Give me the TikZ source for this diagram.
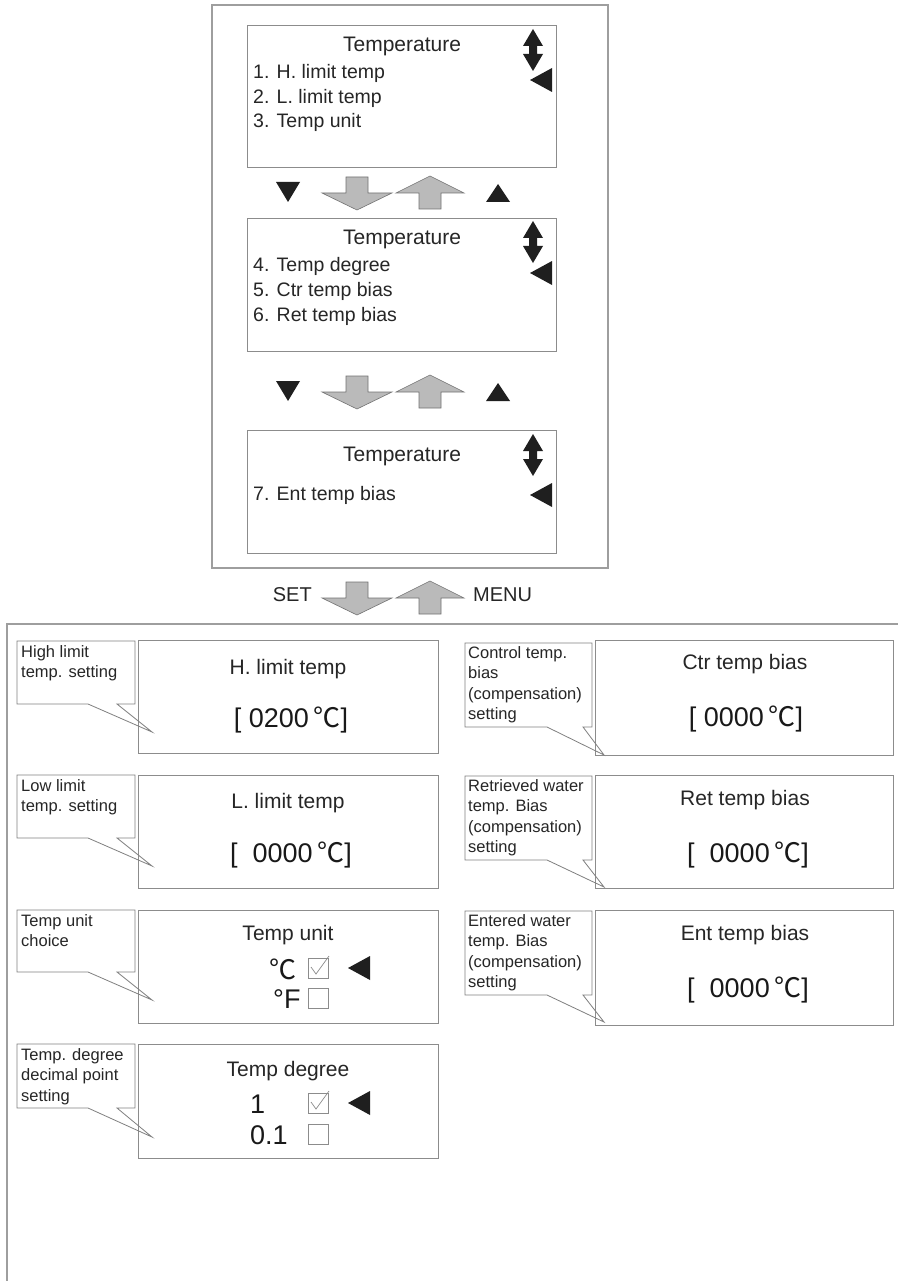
\documentclass[tikz,border=0pt]{standalone}
\usepackage{fontspec}
\setmainfont{Liberation Sans}
\newfontfamily\cjk{Noto Sans CJK SC}
\tikzset{
 screenbox/.style={draw=black!45, line width=0.9pt},
 frameline/.style={draw=black!38, line width=1.6pt},
 calloutline/.style={draw=black!50, line width=0.8pt},
 ttl/.style={font=\fontsize{21}{25}\selectfont, text=black!85, inner sep=0},
 item/.style={font=\fontsize{19.5}{23}\selectfont, anchor=west, text=black!85, inner sep=0},
 valtext/.style={font=\fontsize{27}{32}\selectfont, text=black!90, inner sep=0},
 ctext/.style={font=\fontsize{16.5}{20.5}\selectfont, align=left, anchor=north west, inner sep=0, text=black!85},
 grayarrow/.style={fill=black!27, draw=black!55, line width=0.6pt},
 cbox/.style={draw=black!45, line width=0.7pt},
 sidelabel/.style={font=\fontsize{20}{24}\selectfont, text=black!85, inner sep=0},
}
\newcommand\grayDown[2]{\draw[grayarrow] (#1-11,#2) -- (#1+11,#2) -- (#1+11,#2+16) -- (#1+35,#2+16) -- (#1,#2+33) -- (#1-35,#2+16) -- (#1-11,#2+16) -- cycle;}
\newcommand\grayUp[2]{\draw[grayarrow] (#1,#2) -- (#1+34,#2+17) -- (#1+11,#2+17) -- (#1+11,#2+33) -- (#1-11,#2+33) -- (#1-11,#2+17) -- (#1-34,#2+17) -- cycle;}
\newcommand\dblArrow[2]{\fill[black!88] (#1,#2) -- (#1+10,#2+17) -- (#1+4,#2+17) -- (#1+4,#2+25) -- (#1+10,#2+25) -- (#1,#2+42) -- (#1-10,#2+25) -- (#1-4,#2+25) -- (#1-4,#2+17) -- (#1-10,#2+17) -- cycle;}
\newcommand\leftTri[2]{\fill[black!88] (#1,#2-12) -- (#1,#2+12) -- (#1-22,#2) -- cycle;}
\newcommand\downTri[2]{\fill[black!88] (#1-12,#2-10) -- (#1+12,#2-10) -- (#1,#2+10) -- cycle;}
\newcommand\upTri[2]{\fill[black!88] (#1-12,#2+9) -- (#1+12,#2+9) -- (#1,#2-9) -- cycle;}
\newcommand\checkBox[3]{\draw[cbox] (#1,#2) rectangle (#1+20,#2+20);
 \ifnum#3=1 \draw[black!45, line width=0.7pt] (#1+3,#2+9) -- (#1+8,#2+16) -- (#1+21,#2-2);\fi}
\newcommand\calloutL[3]{\draw[calloutline] (88,#2) -- (17,#2) -- (17,#1) -- (135,#1) -- (135,#2) -- (117,#2) -- (152,#3) -- cycle;}
\newcommand\calloutR[3]{\draw[calloutline] (547,#2) -- (465,#2) -- (465,#1) -- (592,#1) -- (592,#2) -- (583,#2) -- (604,#3) -- cycle;}
\begin{document}
\begin{tikzpicture}[x=1pt,y=-1pt]
\useasboundingbox (0,0) rectangle (898,1281);
\fill[white] (0,0) rectangle (898,1281);
% ---------- top menu panel ----------
\draw[frameline] (212,5) rectangle (608,568);
\node[screenbox, anchor=north west, minimum width=309pt, minimum height=142pt, inner sep=0] (s1) at (247,25) {};
\node[ttl] (s1t) at (402,46) {Temperature};
\node[item] (s1a) at (253,73) {1. H. limit temp};
\node[item] (s1b) at (253,98) {2. L. limit temp};
\node[item] (s1c) at (253,122) {3. Temp unit};
\dblArrow{533}{29}
\leftTri{552}{80}

\node[screenbox, anchor=north west, minimum width=309pt, minimum height=133pt, inner sep=0] (s2) at (247,218) {};
\node[ttl] (s2t) at (402,239) {Temperature};
\node[item] (s2a) at (253,266) {4. Temp degree};
\node[item] (s2b) at (253,291) {5. Ctr temp bias};
\node[item] (s2c) at (253,316) {6. Ret temp bias};
\dblArrow{533}{221}
\leftTri{552}{273}

\node[screenbox, anchor=north west, minimum width=309pt, minimum height=123pt, inner sep=0] (s3) at (247,430) {};
\node[ttl] (s3t) at (402,456) {Temperature};
\node[item] (s3a) at (253,495) {7. Ent temp bias};
\dblArrow{533}{434}
\leftTri{552}{495}

% row arrows
\downTri{288}{192}
\grayDown{357}{177}
\grayUp{430}{176}
\upTri{498}{193}

\downTri{288}{391}
\grayDown{357}{376}
\grayUp{430}{375}
\upTri{498}{392}

% SET / MENU
\node[sidelabel, anchor=east] (set) at (312,595) {SET};
\grayDown{357}{582}
\grayUp{430}{581}
\node[sidelabel, anchor=west] (menu) at (473,595) {MENU};

% ---------- bottom panel ----------
\draw[frameline] (7,1281) -- (7,624) -- (898,624);

% left column
\node[screenbox, anchor=north west, minimum width=300pt, minimum height=113pt, inner sep=0] (a) at (138,640) {};
\node[ttl] (at) at (288,669) {H. limit temp};
\node[valtext] (av) at (291,720) {[ 0200\,{\cjk ℃}]};
\calloutL{641}{704}{732}
\node[ctext] (ac) at (21,645) {High limit\\temp. setting};

\node[screenbox, anchor=north west, minimum width=300pt, minimum height=113pt, inner sep=0] (b) at (138,775) {};
\node[ttl] (bt) at (288,803) {L. limit temp};
\node[valtext] (bv) at (291,855) {[\ \ 0000\,{\cjk ℃}]};
\calloutL{775}{838}{866}
\node[ctext] (bc) at (21,779) {Low limit\\temp. setting};

\node[screenbox, anchor=north west, minimum width=300pt, minimum height=113pt, inner sep=0] (c) at (138,910) {};
\node[ttl] (ct) at (288,935) {Temp unit};
\node[valtext, anchor=west] (cc) at (269,969) {{\cjk ℃}};
\node[valtext, anchor=west] (cf) at (273,999) {°F};
\checkBox{308}{958}{1}
\checkBox{308}{988}{0}
\leftTri{370}{968}
\calloutL{910}{972}{1000}
\node[ctext] (ccall) at (21,914) {Temp unit\\choice};

\node[screenbox, anchor=north west, minimum width=300pt, minimum height=114pt, inner sep=0] (d) at (138,1044) {};
\node[ttl] (dt) at (288,1071) {Temp degree};
\node[valtext, anchor=west] (d1) at (250,1104) {1};
\node[valtext, anchor=west] (d2) at (250,1135) {0.1};
\checkBox{308}{1093}{1}
\checkBox{308}{1124}{0}
\leftTri{370}{1103}
\calloutL{1044}{1108}{1137}
\node[ctext] (dc) at (21,1048) {Temp. degree\\decimal point\\setting};

% right column
\node[screenbox, anchor=north west, minimum width=298pt, minimum height=115pt, inner sep=0] (e) at (595,640) {};
\node[ttl] (et) at (745,664) {Ctr temp bias};
\node[valtext] (ev) at (746,719) {[ 0000\,{\cjk ℃}]};
\calloutR{643}{727}{755}
\node[ctext] (ec) at (468,646) {Control temp.\\bias\\(compensation)\\setting};

\node[screenbox, anchor=north west, minimum width=298pt, minimum height=113pt, inner sep=0] (f) at (595,775) {};
\node[ttl] (ft) at (745,800) {Ret temp bias};
\node[valtext] (fv) at (748,855) {[\ \ 0000\,{\cjk ℃}]};
\calloutR{776}{860}{887}
\node[ctext] (fc) at (468,779) {Retrieved water\\temp. Bias\\(compensation)\\setting};

\node[screenbox, anchor=north west, minimum width=298pt, minimum height=115pt, inner sep=0] (g) at (595,910) {};
\node[ttl] (gt) at (745,935) {Ent temp bias};
\node[valtext] (gv) at (748,990) {[\ \ 0000\,{\cjk ℃}]};
\calloutR{911}{995}{1022}
\node[ctext] (gc) at (468,914) {Entered water\\temp. Bias\\(compensation)\\setting};
\end{tikzpicture}
\end{document}
